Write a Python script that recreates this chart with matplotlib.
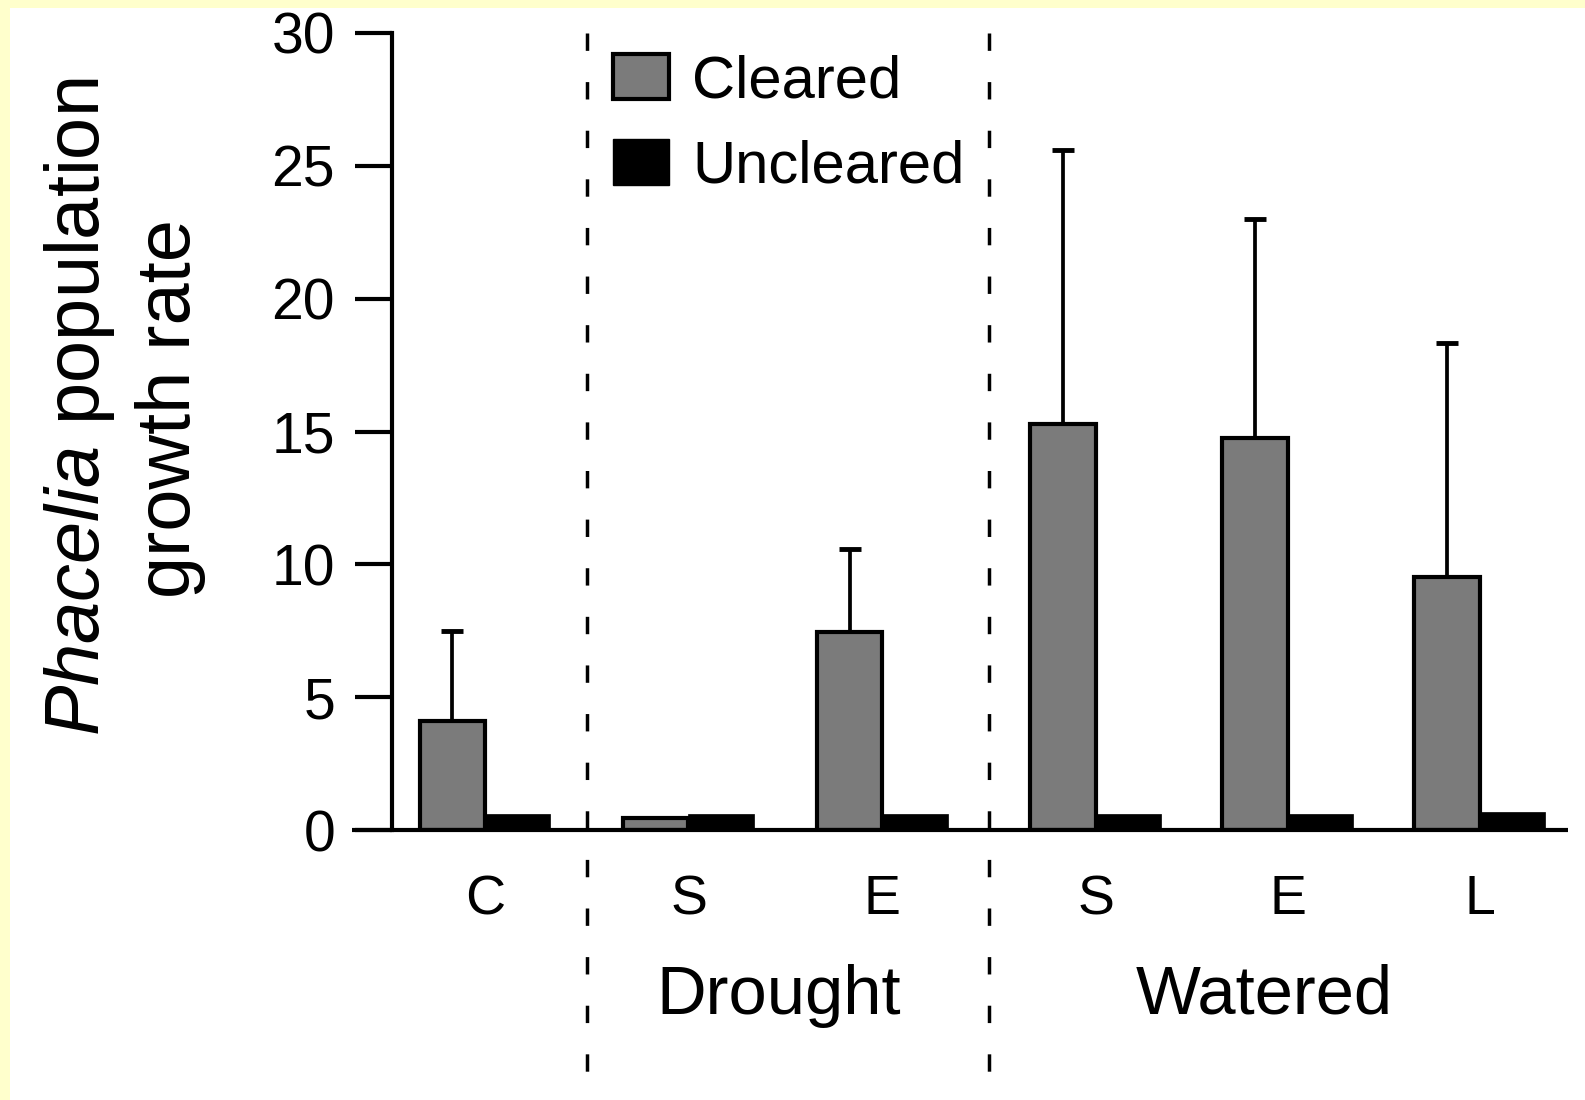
import matplotlib
matplotlib.use("Agg")
import matplotlib.pyplot as plt
from matplotlib.patches import Patch

plt.rcParams['font.family'] = ['Liberation Sans', 'DejaVu Sans']
plt.rcParams['mathtext.fontset'] = 'custom'
plt.rcParams['mathtext.rm'] = 'Liberation Sans'
plt.rcParams['mathtext.it'] = 'Liberation Sans:italic'

# ---- data ----
categories = ["C", "S", "E", "S", "E", "L"]
groups = ["Drought", "Watered"]
cleared = [4.1, 0.45, 7.45, 15.3, 14.77, 9.52]
cleared_err = [3.4, 0.0, 3.13, 10.3, 8.23, 8.81]
uncleared = [0.6, 0.6, 0.6, 0.6, 0.6, 0.68]
yticks = [0, 5, 10, 15, 20, 25, 30]

# ---- layout ----
W, H = 1585, 1100
DPI = 100
pos = [0.0, 1.06, 2.07, 3.18, 4.18, 5.18]
bw = 0.34
gray = '#7b7b7b'

fig = plt.figure(figsize=(W / DPI, H / DPI), dpi=DPI)
fig.patch.set_facecolor('#ffffcc')
# white panel leaving yellow strip on top and left
fig.patches.append(plt.Rectangle((10 / W, 0), 1, 1 - 8 / H, transform=fig.transFigure,
                                 facecolor='white', edgecolor='none', zorder=-5))

ax_l, ax_r = 392 / W, 1568 / W
ax_b, ax_t = 1 - 830 / H, 1 - 33 / H
ax = fig.add_axes([ax_l, ax_b, ax_r - ax_l, ax_t - ax_b])
ax.set_facecolor('none')
ax.set_zorder(2)

ax.bar([p - bw for p in pos], cleared, width=bw, align='edge', color=gray,
       edgecolor='black', linewidth=3.0, zorder=3, label='Cleared')
ax.bar(pos, uncleared, width=bw, align='edge', color='black',
       edgecolor='black', linewidth=0.5, zorder=3, label='Uncleared')
xc = [p - bw / 2 for p in pos]
ax.errorbar(xc, cleared, yerr=[[0] * len(cleared), cleared_err], fmt='none',
            ecolor='black', elinewidth=2.7, capsize=8, capthick=3.5, zorder=2)

ax.set_xlim(-0.484, 5.64)
ax.set_ylim(0, 30)
for s in ['top', 'right', 'bottom']:
    ax.spines[s].set_visible(False)
ax.spines['left'].set_linewidth(3)
ax.set_yticks(yticks)
ax.set_yticklabels([str(v) for v in yticks])
ax.tick_params(axis='y', length=27, width=3, pad=14, labelsize=41, direction='out')
ax.set_xticks(pos)
ax.set_xticklabels(categories)
ax.tick_params(axis='x', length=0, pad=32, labelsize=40)

# baseline extending left past the y axis
ax.plot([-0.034, 1.0], [0, 0], transform=ax.transAxes, color='black',
        linewidth=3, clip_on=False, zorder=4, solid_capstyle='butt')

# dashed separators
for sep in [(pos[0] + pos[1]) / 2, (pos[2] + pos[3]) / 2]:
    ax.plot([sep, sep], [1.0, -0.36], transform=ax.get_xaxis_transform(),
            color='black', linewidth=2.5, linestyle=(0, (5, 9)), clip_on=False, zorder=1)

# group labels
fig.text(779 / W, 1 - 1014 / H, groups[0], fontsize=49.5, ha='center', va='baseline')
fig.text(1264 / W, 1 - 1014 / H, groups[1], fontsize=49.5, ha='center', va='baseline')

# y label (two lines)
fig.text(80 / W, 1 - 407 / H, r'$\mathit{Phacelia}$ population', fontsize=54.5,
         rotation=90, ha='center', va='center')
fig.text(170 / W, 1 - 409 / H, 'growth rate', fontsize=54.5,
         rotation=90, ha='center', va='center')

handles = [Patch(facecolor=gray, edgecolor='black', linewidth=3.0, label='Cleared'),
           Patch(facecolor='black', edgecolor='black', label='Uncleared')]
ax.legend(handles=handles, loc='upper left', bbox_to_anchor=(613 / W, 1 - 54 / H),
          bbox_transform=fig.transFigure, frameon=False, fontsize=43,
          handlelength=0.94, handleheight=0.79, handletextpad=0.39,
          labelspacing=0.5, borderpad=0, borderaxespad=0)

fig.savefig('out.png', dpi=DPI)
